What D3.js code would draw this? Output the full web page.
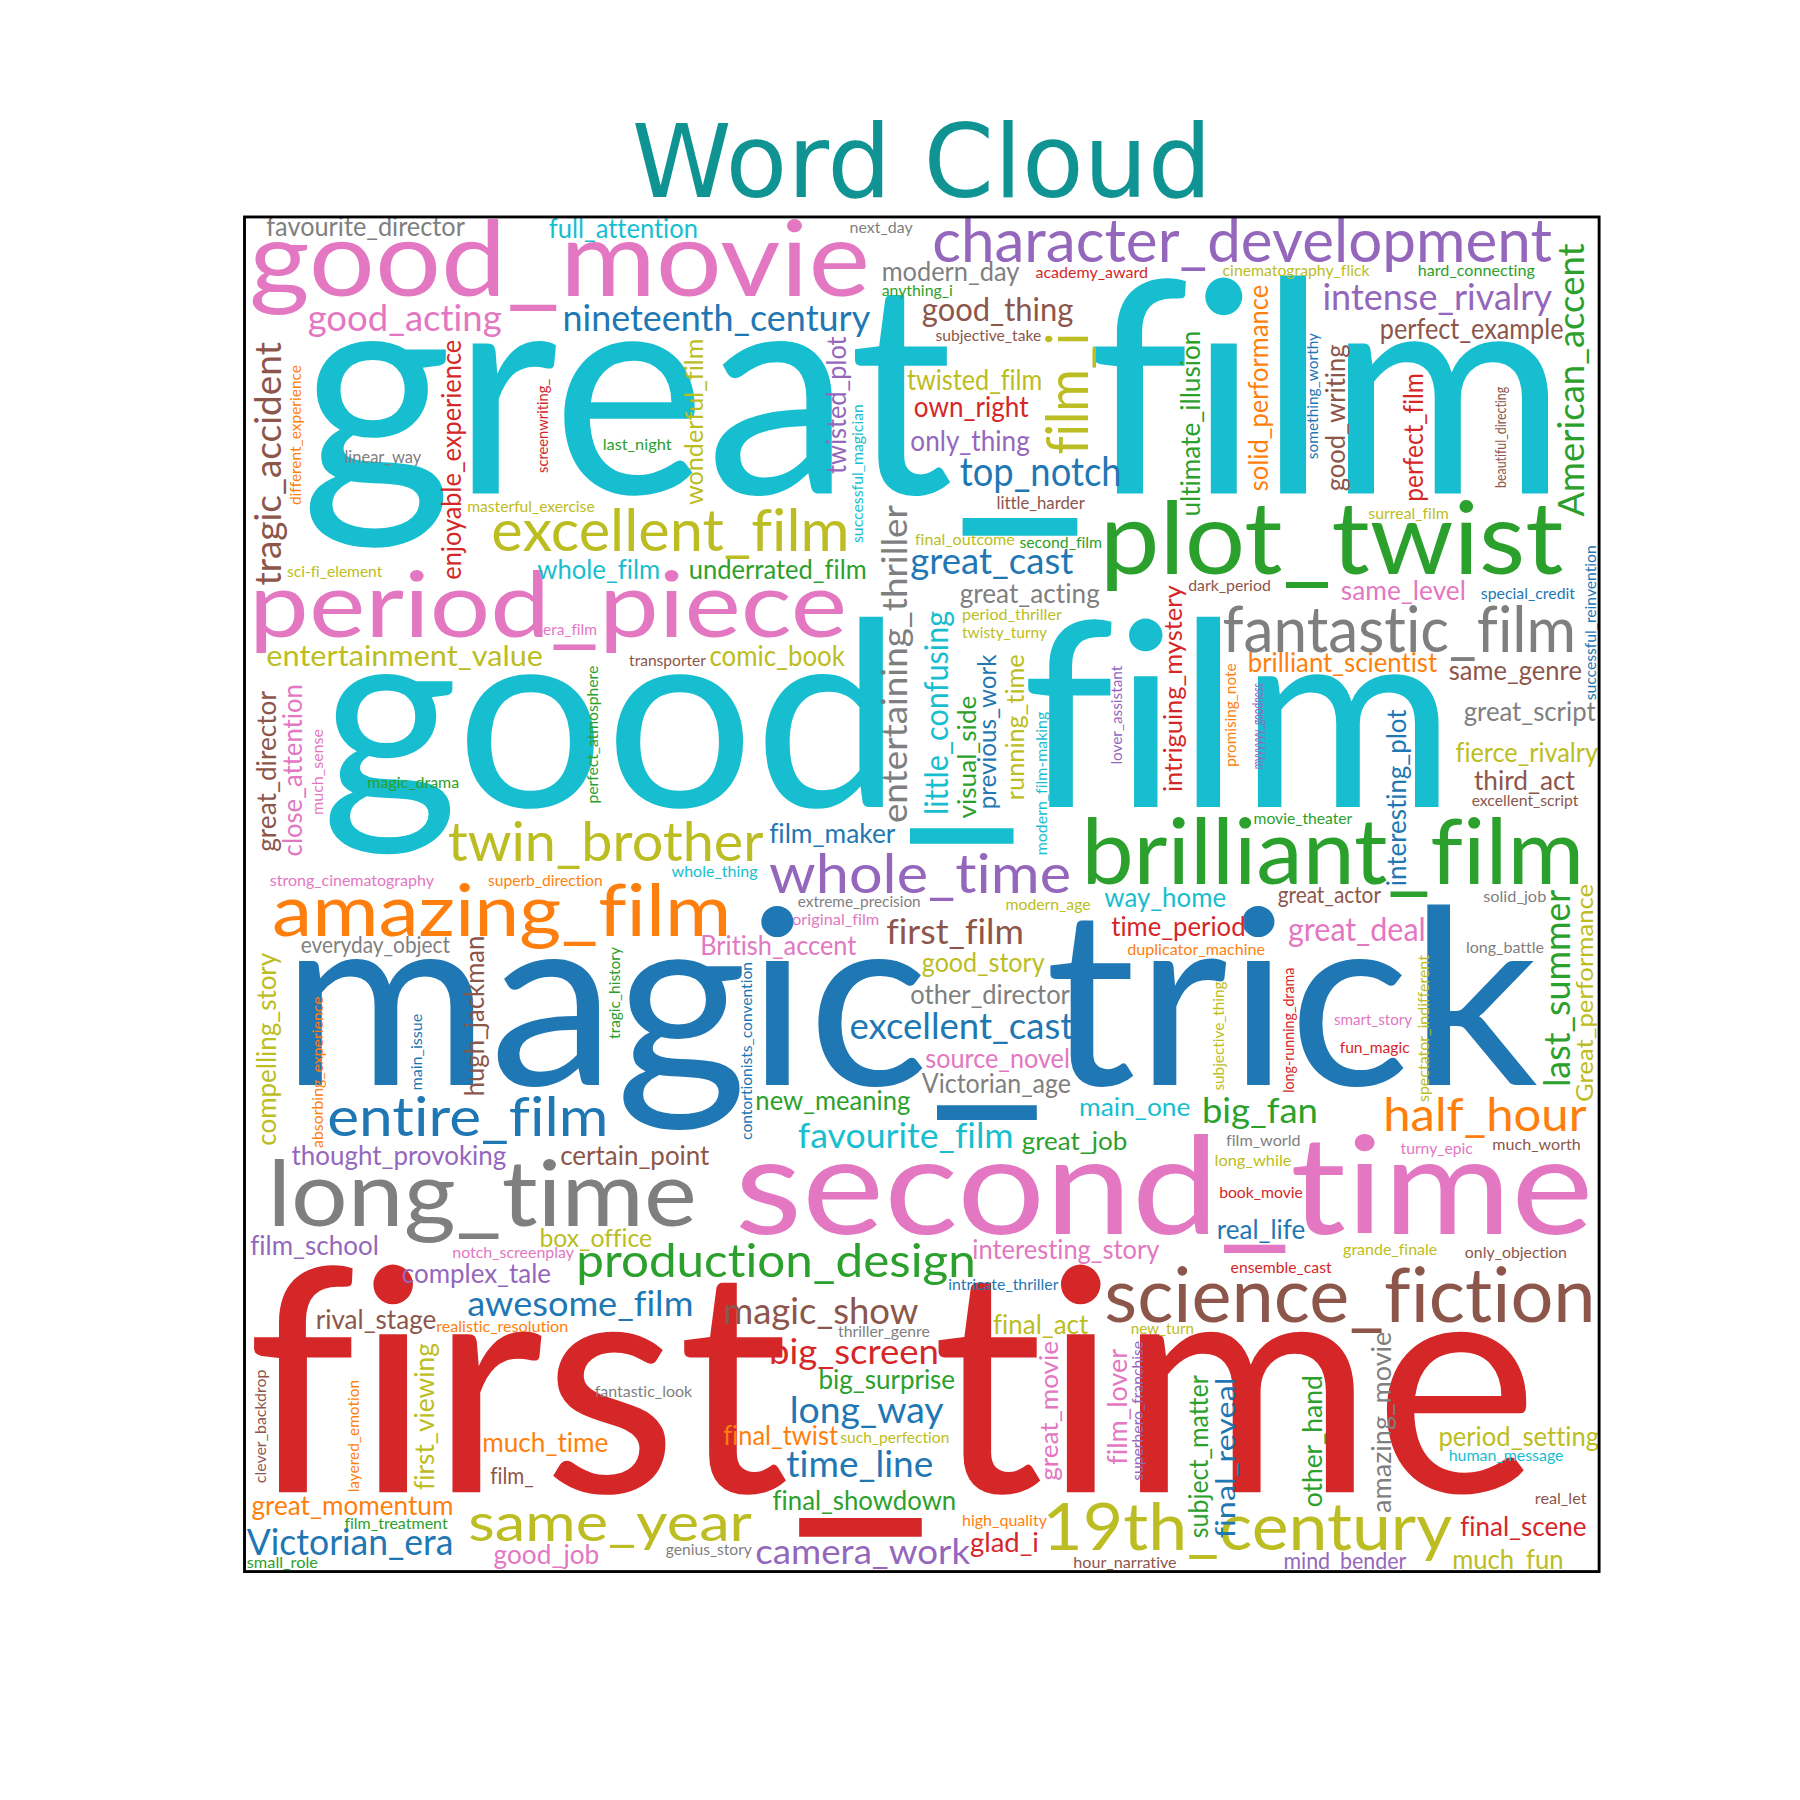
<!DOCTYPE html>
<html>
<head>
<meta charset="utf-8">
<script src="https://cdn.jsdelivr.net/npm/d3@7"></script>
<style>
  body { margin: 0; background: #fff; }
  text.w { font-family: Lato, "Noto Sans", sans-serif; font-variant-ligatures: none; font-feature-settings: "liga" 0; }
</style>
</head>
<body>
<div id="cloud"></div>
<script>
var svgSize = 1800;
var viewSize = 1568;

// tab10 colours
var palette = {
  blue: "#1f77b4", orange: "#ff7f0e", green: "#2ca02c", red: "#d62728", purple: "#9467bd",
  brown: "#8c564b", pink: "#e377c2", gray: "#7f7f7f", olive: "#bcbd22", cyan: "#17becf"
};

// horizontal words: text, left, baseline, length, size, colour
var horizontalWords = [
  ["great_film", 262, 430, 1103, 258, "cyan"],
  ["good_film", 280, 703, 988, 225, "cyan"],
  ["magic_trick", 245, 945, 1095, 213, "blue"],
  ["first_time", 215, 1300, 1125, 272, "red"],
  ["second_time", 640, 1075, 748, 118, "pink"],
  ["good_movie", 217, 258, 541, 92, "pink"],
  ["period_piece", 217, 555, 521, 80, "pink"],
  ["plot_twist", 958, 500, 404, 88, "green"],
  ["fantastic_film", 1065, 568, 308, 55, "gray"],
  ["brilliant_film", 942, 770, 438, 80, "green"],
  ["long_time", 233, 1068, 374, 80, "gray"],
  ["science_fiction", 962, 1152, 428, 65, "brown"],
  ["character_development", 812, 228, 540, 52, "purple"],
  ["amazing_film", 237, 815, 400, 62, "orange"],
  ["twin_brother", 390, 750, 275, 48, "olive"],
  ["excellent_film", 428, 480, 312, 50, "olive"],
  ["entire_film", 285, 990, 245, 48, "blue"],
  ["whole_time", 670, 778, 263, 48, "purple"],
  ["same_year", 408, 1342, 247, 45, "olive"],
  ["19th_century", 908, 1350, 357, 57, "olive"],
  ["production_design", 502, 1112, 348, 41, "green"],
  ["half_hour", 1205, 985, 177, 40, "orange"],
  ["magic_show", 630, 1153, 170, 32, "brown"],
  ["nineteenth_century", 490, 288, 268, 32, "blue"],
  ["good_acting", 268, 288, 169, 32, "pink"],
  ["intense_rivalry", 1152, 270, 200, 32, "purple"],
  ["good_thing", 803, 280, 132, 28, "brown"],
  ["modern_day", 768, 245, 120, 24, "gray"],
  ["full_attention", 478, 207, 130, 23, "cyan"],
  ["favourite_director", 232, 206, 173, 23, "gray"],
  ["next_day", 740, 203, 55, 14, "gray"],
  ["academy_award", 902, 242, 98, 14, "red"],
  ["cinematography_flick", 1065, 240, 128, 13, "olive"],
  ["hard_connecting", 1235, 240, 102, 13, "green"],
  ["anything_i", 768, 258, 62, 14, "green"],
  ["subjective_take", 815, 297, 92, 14, "brown"],
  ["perfect_example", 1202, 295, 160, 25, "brown"],
  ["twisted_film", 790, 340, 118, 25, "olive"],
  ["own_right", 796, 363, 100, 25, "red"],
  ["only_thing", 793, 393, 104, 25, "purple"],
  ["top_notch", 836, 423, 141, 35, "blue"],
  ["little_harder", 868, 443, 77, 15, "brown"],
  ["last_night", 525, 392, 60, 14, "green"],
  ["linear_way", 300, 403, 67, 15, "gray"],
  ["masterful_exercise", 407, 446, 111, 14, "olive"],
  ["sci-fi_element", 250, 503, 83, 14, "olive"],
  ["whole_film", 468, 504, 107, 24, "cyan"],
  ["underrated_film", 600, 504, 155, 24, "green"],
  ["final_outcome", 797, 475, 87, 14, "olive"],
  ["second_film", 888, 477, 72, 14, "green"],
  ["great_cast", 793, 500, 142, 32, "blue"],
  ["great_acting", 836, 525, 122, 24, "gray"],
  ["period_thriller", 838, 540, 87, 14, "olive"],
  ["twisty_turny", 838, 556, 74, 14, "olive"],
  ["dark_period", 1035, 515, 72, 14, "brown"],
  ["same_level", 1168, 523, 109, 24, "pink"],
  ["special_credit", 1290, 522, 82, 14, "blue"],
  ["surreal_film", 1192, 452, 70, 14, "olive"],
  ["entertainment_value", 232, 580, 241, 26, "olive"],
  ["era_film", 473, 553, 47, 14, "pink"],
  ["transporter", 548, 580, 67, 14, "brown"],
  ["comic_book", 618, 580, 118, 25, "olive"],
  ["brilliant_scientist", 1087, 585, 165, 24, "orange"],
  ["same_genre", 1262, 592, 116, 24, "brown"],
  ["great_script", 1275, 628, 115, 24, "gray"],
  ["fierce_rivalry", 1268, 664, 124, 24, "olive"],
  ["third_act", 1284, 688, 88, 24, "brown"],
  ["excellent_script", 1282, 702, 93, 14, "brown"],
  ["magic_drama", 320, 686, 80, 14, "green"],
  ["movie_theater", 1092, 718, 86, 14, "green"],
  ["film_maker", 670, 734, 110, 24, "blue"],
  ["strong_cinematography", 235, 772, 143, 14, "pink"],
  ["superb_direction", 425, 772, 100, 14, "orange"],
  ["whole_thing", 585, 764, 75, 14, "cyan"],
  ["way_home", 962, 790, 106, 24, "cyan"],
  ["great_actor", 1113, 787, 90, 20, "brown"],
  ["solid_job", 1292, 786, 55, 14, "gray"],
  ["extreme_precision", 695, 790, 107, 14, "gray"],
  ["modern_age", 876, 793, 74, 14, "olive"],
  ["original_film", 690, 806, 76, 14, "pink"],
  ["first_film", 772, 822, 120, 30, "brown"],
  ["time_period", 968, 815, 117, 24, "red"],
  ["great_deal", 1122, 820, 120, 28, "pink"],
  ["long_battle", 1277, 830, 68, 14, "gray"],
  ["duplicator_machine", 982, 832, 120, 14, "orange"],
  ["everyday_object", 262, 830, 130, 20, "gray"],
  ["British_accent", 610, 832, 136, 24, "pink"],
  ["good_story", 803, 847, 107, 24, "olive"],
  ["other_director", 793, 875, 139, 24, "gray"],
  ["excellent_cast", 740, 905, 195, 32, "blue"],
  ["smart_story", 1162, 893, 68, 14, "pink"],
  ["fun_magic", 1167, 917, 61, 14, "red"],
  ["source_novel", 806, 930, 126, 24, "pink"],
  ["Victorian_age", 803, 952, 130, 24, "gray"],
  ["new_meaning", 658, 967, 135, 24, "green"],
  ["main_one", 940, 972, 97, 22, "cyan"],
  ["big_fan", 1047, 978, 101, 30, "green"],
  ["favourite_film", 695, 1000, 188, 30, "cyan"],
  ["great_job", 890, 1002, 92, 22, "green"],
  ["film_world", 1068, 998, 65, 14, "gray"],
  ["turny_epic", 1220, 1005, 63, 14, "pink"],
  ["much_worth", 1300, 1002, 77, 14, "brown"],
  ["thought_provoking", 254, 1015, 187, 24, "purple"],
  ["certain_point", 488, 1015, 130, 24, "brown"],
  ["long_while", 1058, 1016, 67, 14, "olive"],
  ["book_movie", 1062, 1044, 73, 14, "red"],
  ["real_life", 1060, 1079, 77, 24, "blue"],
  ["film_school", 218, 1093, 112, 24, "purple"],
  ["notch_screenplay", 394, 1096, 106, 14, "pink"],
  ["box_office", 470, 1086, 98, 22, "olive"],
  ["interesting_story", 847, 1097, 163, 24, "pink"],
  ["grande_finale", 1170, 1093, 82, 14, "olive"],
  ["only_objection", 1276, 1096, 89, 14, "brown"],
  ["ensemble_cast", 1072, 1109, 88, 14, "red"],
  ["complex_tale", 350, 1118, 130, 24, "purple"],
  ["intricate_thriller", 826, 1124, 96, 14, "blue"],
  ["awesome_film", 407, 1146, 197, 30, "blue"],
  ["rival_stage", 275, 1158, 105, 24, "brown"],
  ["realistic_resolution", 380, 1160, 115, 14, "orange"],
  ["final_act", 865, 1162, 83, 24, "olive"],
  ["new_turn", 985, 1162, 55, 14, "olive"],
  ["thriller_genre", 730, 1165, 80, 14, "gray"],
  ["big_screen", 670, 1188, 148, 30, "red"],
  ["big_surprise", 713, 1210, 119, 24, "green"],
  ["fantastic_look", 518, 1217, 85, 14, "gray"],
  ["long_way", 688, 1240, 134, 32, "blue"],
  ["final_twist", 630, 1259, 100, 24, "orange"],
  ["such_perfection", 732, 1257, 95, 14, "olive"],
  ["much_time", 420, 1265, 110, 24, "orange"],
  ["period_setting", 1253, 1260, 140, 24, "olive"],
  ["human_message", 1262, 1273, 100, 14, "cyan"],
  ["time_line", 685, 1287, 128, 32, "blue"],
  ["film_", 427, 1293, 38, 20, "brown"],
  ["great_momentum", 219, 1320, 176, 24, "orange"],
  ["final_showdown", 673, 1315, 160, 24, "green"],
  ["high_quality", 838, 1329, 74, 14, "orange"],
  ["real_let", 1337, 1310, 45, 14, "brown"],
  ["film_treatment", 300, 1332, 90, 14, "green"],
  ["final_scene", 1272, 1338, 110, 24, "red"],
  ["Victorian_era", 215, 1355, 180, 32, "blue"],
  ["good_job", 430, 1362, 92, 24, "pink"],
  ["genius_story", 580, 1355, 75, 14, "gray"],
  ["camera_work", 658, 1362, 187, 30, "purple"],
  ["glad_i", 845, 1352, 60, 24, "red"],
  ["hour_narrative", 935, 1366, 90, 14, "brown"],
  ["mind_bender", 1118, 1367, 107, 20, "purple"],
  ["much_fun", 1265, 1367, 97, 24, "olive"],
  ["small_role", 215, 1366, 62, 14, "green"]
];

// vertical words (read bottom to top): text, baseline x, bottom, top, size, colour
var verticalWords = [
  ["film_i", 948, 396, 290, 50, "olive"],
  ["tragic_accident", 245, 510, 298, 32, "brown"],
  ["different_experience", 262, 440, 318, 14, "orange"],
  ["enjoyable_experience", 402, 505, 296, 24, "red"],
  ["screenwriting_", 477, 412, 330, 14, "red"],
  ["wonderful_film", 612, 440, 295, 22, "olive"],
  ["twisted_plot", 737, 413, 293, 24, "purple"],
  ["successful_magician", 752, 473, 352, 14, "cyan"],
  ["entertaining_thriller", 790, 717, 440, 30, "gray"],
  ["little_confusing", 826, 710, 532, 28, "cyan"],
  ["visual_side", 850, 713, 606, 22, "green"],
  ["previous_work", 868, 705, 570, 22, "blue"],
  ["running_time", 892, 697, 570, 22, "olive"],
  ["modern_film-making", 912, 745, 620, 14, "cyan"],
  ["lover_assistant", 977, 666, 580, 14, "purple"],
  ["intriguing_mystery", 1030, 690, 510, 22, "red"],
  ["promising_note", 1077, 668, 578, 14, "orange"],
  ["myyyyyy_goodness", 1100, 670, 595, 14, "purple"],
  ["interesting_plot", 1225, 772, 618, 24, "blue"],
  ["ultimate_illusion", 1045, 450, 288, 24, "green"],
  ["solid_performance", 1105, 428, 248, 24, "orange"],
  ["something_worthy", 1148, 400, 290, 14, "blue"],
  ["good_writing", 1172, 428, 300, 24, "brown"],
  ["perfect_film", 1240, 437, 325, 24, "red"],
  ["beautiful_directing", 1312, 425, 337, 14, "brown"],
  ["American_accent", 1380, 450, 212, 32, "green"],
  ["successful_reinvention", 1390, 610, 475, 14, "blue"],
  ["last_summer", 1368, 947, 775, 32, "green"],
  ["Great_performance", 1388, 960, 770, 20, "olive"],
  ["spectator_indifferent", 1245, 960, 832, 14, "olive"],
  ["long-running_drama", 1127, 952, 843, 14, "red"],
  ["subjective_thing", 1066, 950, 855, 14, "olive"],
  ["great_director", 240, 742, 602, 24, "brown"],
  ["close_attention", 263, 746, 596, 24, "pink"],
  ["much_sense", 281, 710, 635, 14, "pink"],
  ["perfect_atmosphere", 521, 700, 580, 14, "green"],
  ["compelling_story", 240, 998, 830, 24, "olive"],
  ["absorbing_experience", 281, 1000, 868, 14, "orange"],
  ["main_issue", 368, 950, 883, 14, "blue"],
  ["hugh_jackman", 422, 955, 815, 24, "brown"],
  ["tragic_history", 540, 905, 825, 14, "green"],
  ["contortionists_convention", 655, 993, 838, 14, "blue"],
  ["clever_backdrop", 232, 1292, 1193, 14, "brown"],
  ["layered_emotion", 313, 1300, 1202, 14, "orange"],
  ["first_viewing", 378, 1298, 1170, 24, "olive"],
  ["great_movie", 922, 1290, 1168, 22, "pink"],
  ["film_lover", 982, 1276, 1175, 24, "pink"],
  ["superhero_franchise", 996, 1290, 1168, 14, "purple"],
  ["subject_matter", 1052, 1340, 1198, 24, "green"],
  ["final_reveal", 1076, 1340, 1200, 24, "blue"],
  ["other_hand", 1152, 1313, 1198, 24, "green"],
  ["amazing_movie", 1212, 1318, 1160, 24, "gray"]
];

var frame = { left: 213, top: 189, right: 1393, bottom: 1369 };

var svg = d3.select("#cloud")
  .append("svg")
  .attr("width", svgSize)
  .attr("height", svgSize)
  .attr("viewBox", `0 0 ${viewSize} ${viewSize}`);

// the cloud's own coordinate space mapped onto the framed area
var xScale = d3.scaleLinear().domain([frame.left, frame.right]).range([frame.left, frame.right]);
var yScale = d3.scaleLinear().domain([frame.top, frame.bottom]).range([frame.top, frame.bottom]);
var fontScale = d3.scaleLinear().domain([0, 100]).range([0, 100]);

// Title
svg.append("text")
  .attr("x", 803)
  .attr("y", 172)
  .attr("text-anchor", "middle")
  .attr("font-family", "DejaVu Sans")
  .attr("font-size", 88)
  .attr("fill", "#0f9393")
  .text("Word Cloud");

var cloud = svg.append("g");

cloud.selectAll(".hw")
  .data(horizontalWords)
  .enter()
  .append("text")
  .attr("class", "w hw")
  .attr("x", d => xScale(d[1]))
  .attr("y", d => yScale(d[2]))
  .attr("textLength", d => d[3])
  .attr("lengthAdjust", "spacingAndGlyphs")
  .attr("font-size", d => fontScale(d[4]))
  .attr("fill", d => palette[d[5]])
  .text(d => d[0]);

cloud.selectAll(".vw")
  .data(verticalWords)
  .enter()
  .append("text")
  .attr("class", "w vw")
  .attr("transform", d => `translate(${xScale(d[1])}, ${yScale(d[2])}) rotate(-90)`)
  .attr("textLength", d => d[2] - d[3])
  .attr("lengthAdjust", "spacingAndGlyphs")
  .attr("font-size", d => fontScale(d[4]))
  .attr("fill", d => palette[d[5]])
  .text(d => d[0]);

// Frame
svg.append("rect")
  .attr("x", frame.left)
  .attr("y", frame.top)
  .attr("width", frame.right - frame.left)
  .attr("height", frame.bottom - frame.top)
  .attr("fill", "none")
  .attr("stroke", "#000")
  .attr("stroke-width", 2.5);
</script>
</body>
</html>
